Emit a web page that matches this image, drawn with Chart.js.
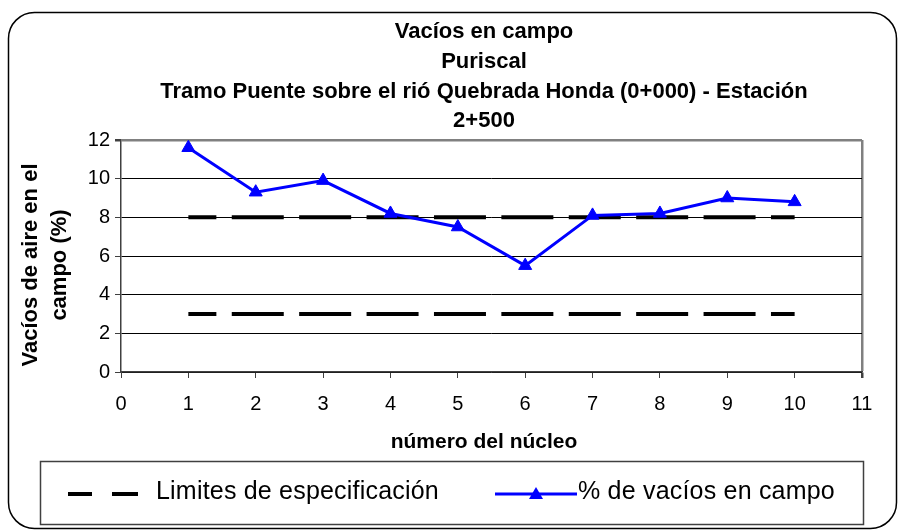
<!DOCTYPE html>
<html>
<head>
<meta charset="utf-8">
<script src="https://cdn.jsdelivr.net/npm/chart.js@4.4.1/dist/chart.umd.min.js"></script>
<style>
  html, body { margin: 0; padding: 0; background: #fff; }
  #wrap { width: 900px; height: 531px; }
</style>
</head>
<body>
<div id="wrap"><canvas id="myChart" width="900" height="531"></canvas></div>
<script>
// datos
var nucleos = [1, 2, 3, 4, 5, 6, 7, 8, 9, 10];
var vacios = [11.6, 9.3, 9.9, 8.2, 7.5, 5.5, 8.1, 8.2, 9.0, 8.8];
var limiteSuperior = [8, 8, 8, 8, 8, 8, 8, 8, 8, 8];
var limiteInferior = [3, 3, 3, 3, 3, 3, 3, 3, 3, 3];

var titulo = ["Vacíos en campo", "Puriscal", "Tramo Puente sobre el rió Quebrada Honda (0+000) - Estación", "2+500"];
var tituloY = ["Vacíos de aire en el", "campo (%)"];
var tituloX = "número del núcleo";
var nombreLimites = "Limites de especificación";
var nombreVacios = "% de vacíos en campo";

var FONT = "'Liberation Sans', Arial, sans-serif";

function puntos(xs, ys) {
    var arr = [];
    for (var i = 0; i < xs.length; i++) {
        arr.push({ x: xs[i], y: ys[i] });
    }
    return arr;
}

var estiloLimite = {
    borderColor: "#000000",
    borderWidth: 4,
    borderDash: [52, 15.4],
    borderDashOffset: 24,
    pointRadius: 0,
    fill: false,
    tension: 0,
    order: 2
};

var data = {
    datasets: [
        {
            label: nombreVacios,
            data: puntos(nucleos, vacios),
            borderColor: "#0000ff",
            backgroundColor: "#0000ff",
            borderWidth: 3,
            pointStyle: "triangle",
            pointRadius: 7.5,
            pointHoverRadius: 7.5,
            pointBorderWidth: 1,
            fill: false,
            tension: 0,
            order: 0
        },
        Object.assign({ label: nombreLimites, data: puntos(nucleos, limiteSuperior) }, estiloLimite),
        Object.assign({ label: nombreLimites + " inf", data: puntos(nucleos, limiteInferior) }, estiloLimite)
    ]
};

// textos, marco y leyenda
var decoracion = {
    id: "decoracion",
    beforeDraw: function (chart) {
        var ctx = chart.ctx;
        ctx.save();
        ctx.fillStyle = "#ffffff";
        ctx.fillRect(0, 0, chart.width, chart.height);
        ctx.beginPath();
        ctx.roundRect(8.5, 12.5, 888, 516, 26);
        ctx.strokeStyle = "#000000";
        ctx.lineWidth = 1.5;
        ctx.stroke();
        ctx.restore();
    },
    afterDraw: function (chart) {
        var ctx = chart.ctx;
        var cx = 484;
        ctx.save();
        ctx.fillStyle = "#000000";
        ctx.textAlign = "center";
        ctx.textBaseline = "alphabetic";

        // titulo
        ctx.font = "bold 22px " + FONT;
        var bases = [38, 67.5, 97.5, 127];
        for (var i = 0; i < titulo.length; i++) {
            ctx.fillText(titulo[i], cx, bases[i]);
        }

        // titulo eje x
        ctx.font = "bold 21px " + FONT;
        ctx.fillText(tituloX, cx, 448);

        // titulo eje y
        ctx.save();
        ctx.font = "bold 22px " + FONT;
        ctx.translate(0, 265);
        ctx.rotate(-Math.PI / 2);
        ctx.fillText(tituloY[0], 0, 37);
        ctx.fillText(tituloY[1], 0, 66);
        ctx.restore();

        // leyenda
        ctx.strokeStyle = "#404040";
        ctx.lineWidth = 1.5;
        ctx.strokeRect(40.5, 461.5, 823, 63);

        var ly = 494;
        var lim = chart.data.datasets[1];
        ctx.strokeStyle = lim.borderColor;
        ctx.lineWidth = lim.borderWidth;
        ctx.beginPath();
        ctx.moveTo(68, ly); ctx.lineTo(92, ly);
        ctx.moveTo(112, ly); ctx.lineTo(138, ly);
        ctx.stroke();

        var vac = chart.data.datasets[0];
        ctx.strokeStyle = vac.borderColor;
        ctx.lineWidth = vac.borderWidth;
        ctx.beginPath();
        ctx.moveTo(495, ly); ctx.lineTo(577, ly);
        ctx.stroke();
        ctx.fillStyle = vac.backgroundColor;
        ctx.beginPath();
        ctx.moveTo(536, ly - 7);
        ctx.lineTo(543, ly + 5);
        ctx.lineTo(529, ly + 5);
        ctx.closePath();
        ctx.fill();

        ctx.fillStyle = "#000000";
        ctx.textAlign = "left";
        ctx.font = "25px " + FONT;
        ctx.letterSpacing = "0.2px";
        ctx.fillText(nombreLimites, 156, 499);
        ctx.fillText(nombreVacios, 578, 499);
        ctx.restore();
    }
};

var config = {
    type: "line",
    data: data,
    options: {
        responsive: false,
        animation: false,
        layout: {
            padding: { top: 140, right: 38, left: 0, bottom: 0 }
        },
        plugins: {
            legend: { display: false },
            title: { display: false },
            tooltip: { enabled: false }
        },
        scales: {
            x: {
                type: "linear",
                min: 0,
                max: 11,
                afterFit: function (scale) { scale.height = 159; },
                ticks: {
                    stepSize: 1,
                    color: "#000000",
                    padding: 14,
                    maxRotation: 0,
                    font: { family: FONT, size: 20 }
                },
                grid: {
                    color: function (c) { return c.tick && c.tick.value === 11 ? "#808080" : "rgba(0,0,0,0)"; },
                    lineWidth: function (c) { return c.tick && c.tick.value === 11 ? 2.5 : 1; },
                    tickColor: "#404040",
                    tickLength: 6,
                    drawTicks: true
                },
                border: { color: "#404040", width: 1.5 }
            },
            y: {
                min: 0,
                max: 12,
                afterFit: function (scale) { scale.width = 121; },
                ticks: {
                    stepSize: 2,
                    color: "#000000",
                    padding: 5,
                    font: { family: FONT, size: 20 }
                },
                grid: {
                    color: function (c) { return c.tick && c.tick.value === 12 ? "#808080" : "#000000"; },
                    lineWidth: function (c) { return c.tick && c.tick.value === 12 ? 2.5 : 1; },
                    tickColor: "#404040",
                    tickLength: 6
                },
                border: { color: "#404040", width: 1.5 }
            }
        }
    },
    plugins: [decoracion]
};

var myChart = new Chart(document.getElementById("myChart"), config);
</script>
</body>
</html>
